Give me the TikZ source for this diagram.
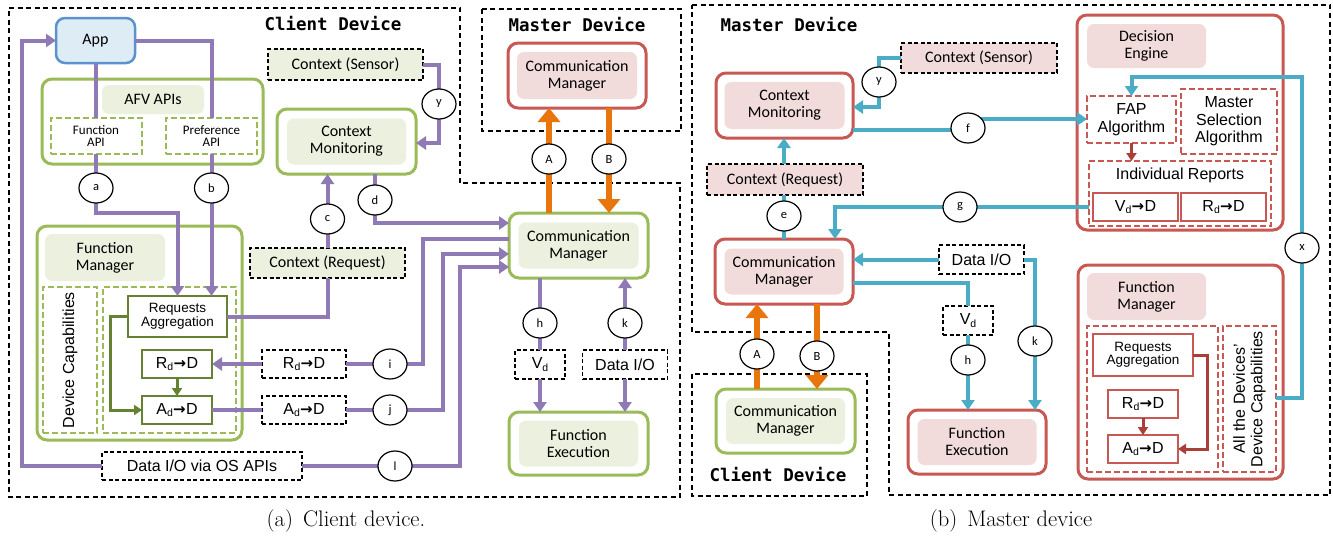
\documentclass[tikz,border=0pt]{standalone}
\usepackage{fontspec}
\usetikzlibrary{arrows.meta,shapes.geometric}
\newfontfamily\calf{Carlito}
\newfontfamily\arif{Liberation Sans}
\newfontfamily\monof{DejaVu Sans Mono}
\newfontfamily\arrowf{DejaVu Sans}
\newcommand\mycal{\calf\fontsize{16}{17}\selectfont}
\newcommand\mycals{\calf\fontsize{13}{12.5}\selectfont}
\newcommand\mycirc{\calf\fontsize{12.5}{12.5}\selectfont}
\newcommand\myari{\arif\fontsize{16}{17.5}\selectfont}
\newcommand\myaris{\arif\fontsize{13.5}{13.5}\selectfont}
\newcommand\mymono{\monof\bfseries\fontsize{17.5}{17.5}\selectfont}
\newcommand\mycap{\rmfamily\fontsize{22.5}{22.5}\selectfont}
\newcommand\rarr{\kern0.3pt{\arrowf\bfseries\fontsize{15}{15}\selectfont →}\kern0.3pt}
\newcommand\sub[1]{\raisebox{-2.5pt}{\fontsize{10.5}{10.5}\selectfont #1}}
\definecolor{purpleC}{RGB}{143,122,182}
\definecolor{greenB}{RGB}{155,187,89}
\definecolor{greenF}{RGB}{235,241,222}
\definecolor{dgreen}{RGB}{100,130,50}
\definecolor{redB}{RGB}{200,88,84}
\definecolor{pinkF}{RGB}{242,220,219}
\definecolor{dred}{RGB}{170,62,57}
\definecolor{blueC}{RGB}{75,172,198}
\definecolor{orangeC}{RGB}{232,118,12}
\definecolor{appB}{RGB}{91,147,204}
\definecolor{appF}{RGB}{222,236,246}
\tikzset{
 base/.style={inner sep=0pt, outer sep=0pt, align=center},
 gbox/.style={base, draw=greenB, line width=3pt, rounded corners=10pt, fill=white},
 rbox/.style={base, draw=redB, line width=3pt, rounded corners=10pt, fill=white},
 glab/.style={base, fill=greenF, rounded corners=7pt, font=\mycal},
 rlab/.style={base, fill=pinkF, rounded corners=7pt, font=\mycal},
 gdash/.style={base, draw=greenB, line width=2pt, dash pattern=on 6pt off 3pt},
 rdash/.style={base, draw=redB, line width=2pt, dash pattern=on 6pt off 3pt},
 kdash/.style={base, draw=black, fill=white, line width=1.2pt, dash pattern=on 4pt off 2.5pt, font=\myari},
 gsolid/.style={base, draw=dgreen, line width=1.5pt, fill=white, font=\myari},
 rsolid/.style={base, draw=redB, line width=1.5pt, fill=white, font=\myari},
 circ/.style={base, draw=black, line width=1.2pt, ellipse, fill=white, minimum width=34pt, minimum height=30pt, font=\mycirc},
 pline/.style={draw=purpleC, line width=4pt},
 parr/.style={pline, -{Triangle[length=10pt,width=13pt]}},
 bline/.style={draw=blueC, line width=4pt},
 barr/.style={bline, -{Triangle[length=10pt,width=13pt]}},
 oarr/.style={draw=orangeC, line width=6pt, -{Triangle[length=14pt,width=22pt]}},
 dgarr/.style={draw=dgreen, line width=3pt, -{Triangle[length=8pt,width=10pt]}},
 drarr/.style={draw=dred, line width=3pt, -{Triangle[length=8pt,width=10pt]}},
 outl/.style={draw=black, line width=1.3pt, dash pattern=on 5pt off 3.5pt},
 ttl/.style={font=\mymono},
}
\begin{document}
\begin{tikzpicture}[x=1pt,y=-1pt]
\fill[white] (0,0) rectangle (1333,538);
\useasboundingbox (0,0) rectangle (1333,538);
% ---------- outlines ----------
\draw[outl] (9,8) -- (460,8) -- (460,183) -- (680,183) -- (680,497) -- (9,497) -- cycle;
\draw[outl] (482,9) rectangle (681,131);
\draw[outl] (692,5) -- (1330,5) -- (1330,495) -- (889,495) -- (889,332) -- (692,332) -- cycle;
\draw[outl] (692,374) rectangle (867,496);
\node[ttl] at (333,24) {Client Device};
\node[ttl] at (577,25) {Master Device};
\node[ttl] at (789,25) {Master Device};
\node[ttl] at (778,475) {Client Device};
\node[font=\mycap] at (346,521) {(a)\hspace{0.45em}Client device.};
\node[font=\mycap] at (1011,521) {(b)\hspace{0.45em}Master device};
% ---------- left panel nodes ----------
\node[base, draw=appB, fill=appF, line width=2.5pt, rounded corners=9pt, minimum width=79pt, minimum height=45pt, font=\mycal] (App) at (95.5,40.5) {App};
\node[gbox, minimum width=221pt, minimum height=85pt] (AFV) at (152.5,121.5) {};
\node[glab, minimum width=102pt, minimum height=29pt] (AFVl) at (153,99.5) {AFV APIs};
\node[gdash, fill=white, font=\mycals, minimum width=91pt, minimum height=36pt] (FAPI) at (96,136) {Function\\API};
\node[gdash, fill=white, font=\mycals, minimum width=91pt, minimum height=36pt] (PAPI) at (211.5,136) {Preference\\API};
\node[gbox, minimum width=205pt, minimum height=214pt] (FM) at (139.5,333) {};
\node[glab, minimum width=120pt, minimum height=47pt] (FMl) at (105,257.5) {Function\\Manager};
\node[gdash, minimum width=54pt, minimum height=146pt] (DC) at (70,360) {};
\node[rotate=90, font=\myari] (DCt) at (DC) {Device Capabilities};
\node[gdash, minimum width=133pt, minimum height=146pt] (FMin) at (169.5,360) {};
\node[gsolid, font=\myaris, minimum width=99pt, minimum height=41pt] (RA) at (177.5,316.5) {Requests\\Aggregation};
\node[gsolid, minimum width=70pt, minimum height=28pt] (Rd) at (177,364) {R\sub{d}\rarr D};
\node[gsolid, minimum width=70pt, minimum height=28pt] (Ad) at (177,410) {A\sub{d}\rarr D};
\node[kdash, fill=greenF, font=\mycal, minimum width=155pt, minimum height=31pt] (CSL) at (345.5,64.5) {Context (Sensor)};
\node[gbox, minimum width=139pt, minimum height=65pt] (CMonL) at (346.5,141.5) {};
\node[glab, minimum width=119pt, minimum height=46pt] (CMonLl) at (CMonL) {Context\\Monitoring};
\node[kdash, fill=greenF, font=\mycal, minimum width=155pt, minimum height=30pt] (CRL) at (327.5,263) {Context (Request)};
\node[gbox, minimum width=139pt, minimum height=65pt] (CML) at (578.5,245.5) {};
\node[glab, minimum width=120pt, minimum height=46pt] (CMLl) at (CML) {Communication\\Manager};
\node[rbox, minimum width=138pt, minimum height=65pt] (MCML) at (577,75.5) {};
\node[rlab, minimum width=120pt, minimum height=47pt] (MCMLl) at (MCML) {Communication\\Manager};
\node[gbox, minimum width=139pt, minimum height=63pt] (FEL) at (578.5,443.5) {};
\node[glab, minimum width=119pt, minimum height=46pt] (FELl) at (FEL) {Function\\Execution};
\node[kdash, minimum width=50pt, minimum height=29pt] (VdL) at (540,364.5) {V\sub{d}};
\node[kdash, minimum width=85pt, minimum height=29pt] (DIOL) at (625,364.5) {Data I/O};
\node[kdash, minimum width=84pt, minimum height=28pt] (RdL) at (304,364) {R\sub{d}\rarr D};
\node[kdash, minimum width=84pt, minimum height=28pt] (AdL) at (304,410) {A\sub{d}\rarr D};
\node[kdash, minimum width=200pt, minimum height=28pt] (DIOS) at (202,466) {Data I/O via OS APIs};
% circle positions (left)
\coordinate (ca) at (96,188);
\coordinate (cb) at (211.5,188);
\coordinate (cc) at (327.5,219);
\coordinate (cd) at (375,200);
\coordinate (cy) at (439,104);
\coordinate (ci) at (390,364);
\coordinate (cj) at (390,410);
\coordinate (cl) at (395,466);
\coordinate (cA) at (549,159);
\coordinate (cB) at (609,159);
\coordinate (ch) at (540,323);
\coordinate (ck) at (625,323);
% ---------- left panel connectors ----------
\draw[pline] (FAPI.north) -- (FAPI.north |- App.south);
\draw[pline] (App.east) -| (PAPI.north);
\draw[pline] (FAPI.south) -- (ca);
\draw[parr] (ca) -- (96,213) -| (RA.north);
\draw[pline] (PAPI.south) -- (cb);
\draw[parr] (cb) -- (cb |- RA.north);
\draw[pline] (RA.east) -| (CRL.south);
\draw[parr] (CRL.north) -- (CRL.north |- CMonL.south);
\draw[parr] (cd |- CMonL.south) |- (CML.west |- 0,223);
\draw[pline] (CML.west |- 0,239) -| (423,364) -- (RdL.east);
\draw[parr] (RdL.west) -- (Rd.east);
\draw[pline] (Ad.east) -- (AdL.west);
\draw[parr] (AdL.east) -| (443,254) -- (CML.west |- 0,254);
\draw[parr] (DIOS.east) -| (460,267) -- (CML.west |- 0,267);
\draw[parr] (DIOS.west) -| (22,40.5) -- (App.west);
\draw[parr] (CSL.east) -| (439,143) -- (CMonL.east |- 0,143);
\draw[oarr] (cA |- CML.north) -- (cA |- MCML.south);
\draw[oarr] (cB |- MCML.south) -- (cB |- CML.north);
\draw[pline] (ch |- CML.south) -- (VdL.north);
\draw[parr] (VdL.south) -- (VdL.south |- FEL.north);
\draw[parr] (DIOL.north) -- (DIOL.north |- CML.south);
\draw[parr] (DIOL.south) -- (DIOL.south |- FEL.north);
\draw[dgarr] (RA.west) -| (110,410) -- (Ad.west);
\draw[dgarr] (Rd.south) -- (Ad.north);
% ---------- right panel nodes ----------
\node[rbox, minimum width=137pt, minimum height=65pt] (CMonR) at (784.5,105.5) {};
\node[rlab, minimum width=120pt, minimum height=47pt] (CMonRl) at (CMonR) {Context\\Monitoring};
\node[kdash, fill=pinkF, font=\mycal, minimum width=156pt, minimum height=30pt] (CSR) at (979,58) {Context (Sensor)};
\node[kdash, fill=pinkF, font=\mycal, minimum width=156pt, minimum height=31pt] (CRR) at (785,179.5) {Context (Request)};
\node[rbox, minimum width=138pt, minimum height=65pt] (MCMR) at (784,271.5) {};
\node[rlab, minimum width=119pt, minimum height=46pt] (MCMRl) at (MCMR) {Communication\\Manager};
\node[rbox, minimum width=206pt, minimum height=215pt] (DE) at (1180,122.5) {};
\node[rlab, minimum width=119pt, minimum height=44pt] (DEl) at (1146.5,46) {Decision\\Engine};
\node[rdash, font=\myari, minimum width=89pt, minimum height=47pt] (FAP) at (1131.5,119.5) {FAP\\Algorithm};
\node[rdash, font=\myari, minimum width=96pt, minimum height=65pt] (MSA) at (1229,121.5) {Master\\Selection\\Algorithm};
\node[rdash, minimum width=182pt, minimum height=65pt] (IR) at (1180,193.5) {};
\node[font=\myari] (IRt) at (1180,175) {Individual Reports};
\node[rsolid, minimum width=85pt, minimum height=28pt] (VdD) at (1135.5,207) {V\sub{d}\rarr D};
\node[rsolid, minimum width=85pt, minimum height=28pt] (RdD) at (1223.5,207) {R\sub{d}\rarr D};
\node[kdash, minimum width=85pt, minimum height=29pt] (DIOR) at (981.5,259.5) {Data I/O};
\node[kdash, minimum width=50pt, minimum height=29pt] (VdR) at (968,320.5) {V\sub{d}};
\node[rbox, minimum width=138pt, minimum height=64pt] (FER) at (977,442) {};
\node[rlab, minimum width=119pt, minimum height=46pt] (FERl) at (FER) {Function\\Execution};
\node[gbox, minimum width=139pt, minimum height=64pt] (CCMR) at (785.5,421) {};
\node[glab, minimum width=119pt, minimum height=46pt] (CCMRl) at (CCMR) {Communication\\Manager};
\node[rbox, minimum width=205pt, minimum height=214pt] (FMR) at (1180.5,372) {};
\node[rlab, minimum width=119pt, minimum height=47pt] (FMRl) at (1146.5,296.5) {Function\\Manager};
\node[rdash, minimum width=131pt, minimum height=146pt] (FMRin) at (1152.5,399) {};
\node[rdash, minimum width=53pt, minimum height=146pt] (ADC) at (1249.5,399) {};
\node[rotate=90, font=\myari, align=center] (ADCt) at (ADC) {All the Devices’\\Device Capabilities};
\node[rsolid, font=\myaris, minimum width=100pt, minimum height=42pt] (RAR) at (1143,355) {Requests\\Aggregation};
\node[rsolid, minimum width=70pt, minimum height=28pt] (RdR) at (1143,404) {R\sub{d}\rarr D};
\node[rsolid, minimum width=70pt, minimum height=28pt] (AdR) at (1143,449) {A\sub{d}\rarr D};
% circle positions (right)
\coordinate (cyR) at (879,82);
\coordinate (cf) at (968,128);
\coordinate (ce) at (784,216);
\coordinate (cg) at (960,207);
\coordinate (cx) at (1302,248);
\coordinate (ckR) at (1035,341);
\coordinate (chR) at (968,360);
\coordinate (cAR) at (757,354);
\coordinate (cBR) at (817,356);
% ---------- right panel connectors ----------
\draw[barr] (CSR.west) -| (879,107) -- (CMonR.east |- 0,107);
\draw[bline] (CMonR.east |- 0,130) -- (968,130);
\draw[barr] (968,119) -- (FAP.west |- 0,119);
\draw[bline] (ce |- MCMR.north) -- (ce |- CRR.south);
\draw[barr] (ce |- CRR.north) -- (ce |- CMonR.south);
\draw[barr] (IR.west |- VdD.west) -| (835,0 |- MCMR.north);
\draw[barr] (DIOR.west) -- (MCMR.east |- DIOR.west);
\draw[barr] (DIOR.east) -| (1035,0 |- FER.north);
\draw[bline] (MCMR.east |- 0,283) -| (VdR.north);
\draw[barr] (VdR.south) -- (VdR.south |- FER.north);
\draw[oarr] (cAR |- CCMR.north) -- (cAR |- MCMR.south);
\draw[oarr] (cBR |- MCMR.south) -- (cBR |- CCMR.north);
\draw[barr] (ADC.east |- 0,398) -| (1302,77) -| (FAP.north);
\draw[drarr] (FAP.south) -- (FAP.south |- IR.north);
\draw[drarr] (RAR.east) -| (1207,449) -- (AdR.east);
\draw[drarr] (RdR.south) -- (AdR.north);
% ---------- circles ----------
\foreach \p/\t in {ca/a,cb/b,cc/c,cd/d,cy/y,ci/i,cj/j,cl/l,cA/A,cB/B,ch/h,ck/k,cyR/y,cf/f,ce/e,cg/g,cx/x,ckR/k,chR/h,cAR/A,cBR/B}
  \node[circ] at (\p) {\t};
\end{tikzpicture}
\end{document}
